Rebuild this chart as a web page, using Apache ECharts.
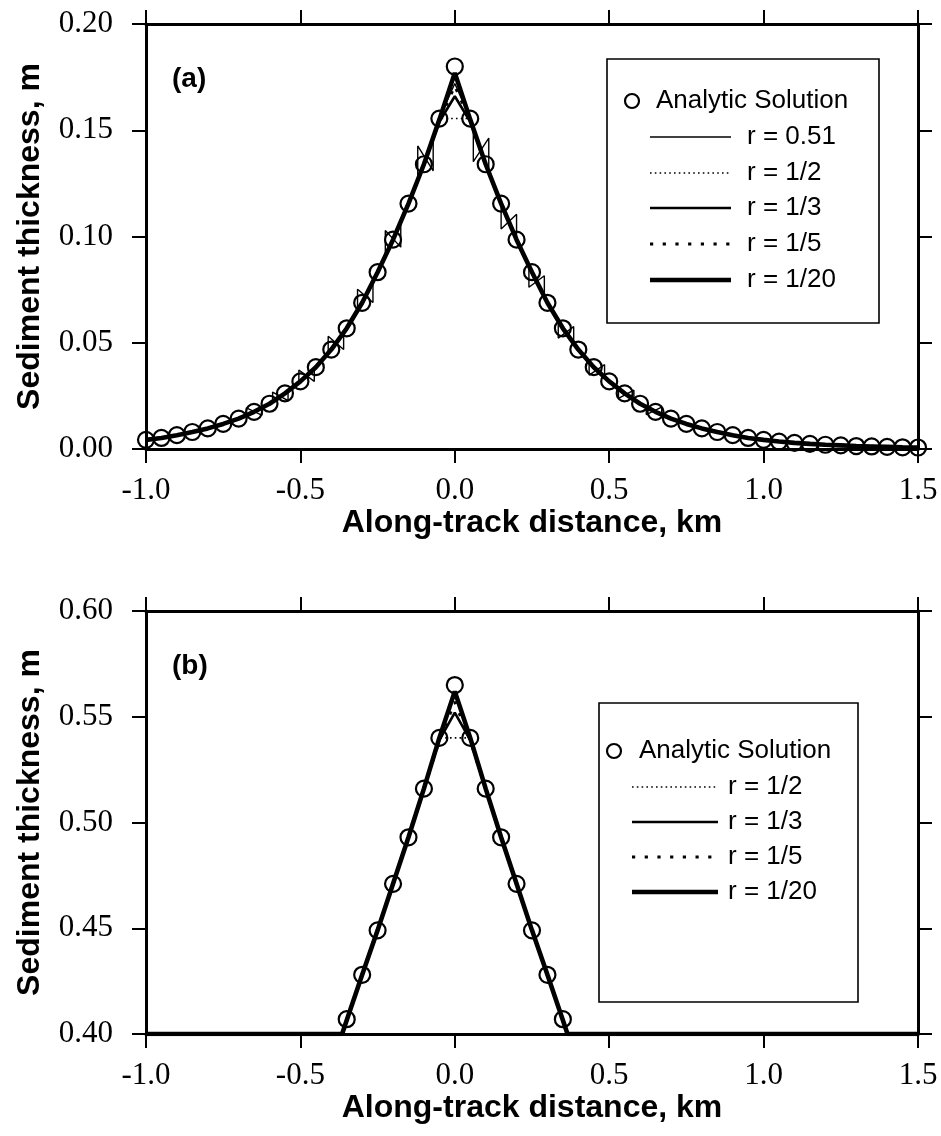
<!DOCTYPE html>
<html><head><meta charset="utf-8">
<script src="https://cdn.jsdelivr.net/npm/echarts@6/dist/echarts.min.js"></script>
<style>html,body{margin:0;padding:0;background:#fff}#c{width:941px;height:1136px}</style>
</head><body><div id="c"></div>
<script>
// ---------- Panel (a) data ----------
const xA = [-1.0,-0.95,-0.9,-0.85,-0.8,-0.75,-0.7,-0.65,-0.6,-0.55,-0.5,-0.45,-0.4,-0.35,-0.3,-0.25,-0.2,-0.15,-0.1,-0.05,
  0,0.05,0.1,0.15,0.2,0.25,0.3,0.35,0.4,0.45,0.5,0.55,0.6,0.65,0.7,0.75,0.8,0.85,0.9,0.95,1.0,
  1.05,1.1,1.15,1.2,1.25,1.3,1.35,1.4,1.45,1.5];
const analyticA = [0.0043,0.0052,0.0065,0.0080,0.0097,0.0118,0.0143,0.0175,0.0213,0.0262,0.0318,0.0385,0.0468,0.0568,0.0688,0.0832,0.0985,0.1155,0.1340,0.1555,
  0.1800,0.1555,0.1340,0.1155,0.0985,0.0832,0.0688,0.0568,0.0468,0.0385,0.0318,0.0262,0.0213,0.0175,0.0143,0.0118,0.0097,0.0080,0.0065,0.0052,0.0043,
  0.0035,0.0029,0.0024,0.0020,0.0017,0.0014,0.0012,0.0010,0.0008,0.0007];
const rHalfA = [0.0043,0.0052,0.0065,0.0080,0.0097,0.0118,0.0143,0.0175,0.0213,0.0262,0.0318,0.0385,0.0468,0.0568,0.0688,0.0832,0.0985,0.1155,0.1340,0.1555,
  0.1555,0.1555,0.1340,0.1155,0.0985,0.0832,0.0688,0.0568,0.0468,0.0385,0.0318,0.0262,0.0213,0.0175,0.0143,0.0118,0.0097,0.0080,0.0065,0.0052,0.0043,
  0.0035,0.0029,0.0024,0.0020,0.0017,0.0014,0.0012,0.0010,0.0008,0.0007];
const rThirdA = [0.0043,0.0052,0.0065,0.0080,0.0097,0.0118,0.0143,0.0175,0.0213,0.0262,0.0318,0.0385,0.0468,0.0568,0.0688,0.0832,0.0985,0.1155,0.1340,0.1540,
  0.1660,0.1540,0.1340,0.1155,0.0985,0.0832,0.0688,0.0568,0.0468,0.0385,0.0318,0.0262,0.0213,0.0175,0.0143,0.0118,0.0097,0.0080,0.0065,0.0052,0.0043,
  0.0035,0.0029,0.0024,0.0020,0.0017,0.0014,0.0012,0.0010,0.0008,0.0007];
const rFifthA = [0.0043,0.0052,0.0065,0.0080,0.0097,0.0118,0.0143,0.0175,0.0213,0.0262,0.0318,0.0385,0.0468,0.0568,0.0688,0.0832,0.0985,0.1155,0.1340,0.1545,
  0.1710,0.1545,0.1340,0.1155,0.0985,0.0832,0.0688,0.0568,0.0468,0.0385,0.0318,0.0262,0.0213,0.0175,0.0143,0.0118,0.0097,0.0080,0.0065,0.0052,0.0043,
  0.0035,0.0029,0.0024,0.0020,0.0017,0.0014,0.0012,0.0010,0.0008,0.0007];
const rTwentiethA = [0.0043,0.0052,0.0065,0.0080,0.0097,0.0118,0.0143,0.0175,0.0213,0.0262,0.0318,0.0385,0.0468,0.0568,0.0688,0.0832,0.0985,0.1155,0.1340,0.1550,
  0.1770,0.1550,0.1340,0.1155,0.0985,0.0832,0.0688,0.0568,0.0468,0.0385,0.0318,0.0262,0.0213,0.0175,0.0143,0.0118,0.0097,0.0080,0.0065,0.0052,0.0043,
  0.0035,0.0029,0.0024,0.0020,0.0017,0.0014,0.0012,0.0010,0.0008,0.0007];
// r = 0.51 : oscillating solution, [x, thickness] pairs
const r051A = [[-1.0,0.0043],[-0.95,0.0052],[-0.9,0.0065],[-0.85,0.008],[-0.8,0.0097],[-0.75,0.0118],[-0.7,0.0143],
  [-0.675,0.0159],[-0.675,0.0194],[-0.625,0.0159],[-0.625,0.0194],[-0.6,0.0213],
  [-0.59,0.0223],[-0.59,0.0268],[-0.54,0.0228],[-0.54,0.0273],
  [-0.505,0.0312],[-0.505,0.0372],[-0.455,0.0318],[-0.455,0.0378],
  [-0.41,0.0451],[-0.41,0.0531],[-0.36,0.0468],[-0.36,0.0548],
  [-0.315,0.0652],[-0.315,0.0752],[-0.265,0.0689],[-0.265,0.0789],
  [-0.225,0.0908],[-0.225,0.1028],[-0.175,0.095],[-0.175,0.107],[-0.15,0.1155],
  [-0.12,0.1266],[-0.12,0.1426],[-0.07,0.1309],[-0.07,0.1469],
  [-0.05,0.1555],[0,0.172],[0.05,0.1555],
  [0.06,0.1512],[0.06,0.1352],[0.11,0.1463],[0.11,0.1303],
  [0.15,0.1155],[0.15,0.1035],[0.2,0.1105],[0.2,0.0985],
  [0.24,0.0861],[0.24,0.0761],[0.29,0.0815],[0.29,0.0715],
  [0.335,0.0602],[0.335,0.0522],[0.385,0.0576],[0.385,0.0496],
  [0.435,0.0408],[0.435,0.0348],[0.485,0.0397],[0.485,0.0337],
  [0.53,0.0283],[0.53,0.0238],[0.58,0.0277],[0.58,0.0232],
  [0.62,0.0197],[0.62,0.0162],[0.67,0.0197],[0.67,0.0162],
  [0.7,0.0143],[0.75,0.0118],[0.8,0.0097],[0.85,0.008],[0.9,0.0065],[0.95,0.0052],[1.0,0.0043],
  [1.1,0.0029],[1.2,0.002],[1.3,0.0014],[1.4,0.001],[1.5,0.0007]];

// ---------- Panel (b) data ----------
const xBcirc = [-0.35,-0.3,-0.25,-0.2,-0.15,-0.1,-0.05,0,0.05,0.1,0.15,0.2,0.25,0.3,0.35];
const analyticB = [0.407,0.428,0.449,0.471,0.493,0.516,0.540,0.565,0.540,0.516,0.493,0.471,0.449,0.428,0.407];
const xBline = [-1.0,-0.365,-0.35,-0.3,-0.25,-0.2,-0.15,-0.1,-0.05,0,0.05,0.1,0.15,0.2,0.25,0.3,0.35,0.365,1.5];
const rHalfB =      [0.40,0.40,0.4065,0.428,0.449,0.471,0.493,0.516,0.540,0.540,0.540,0.516,0.493,0.471,0.449,0.428,0.4065,0.40,0.40];
const rThirdB =     [0.40,0.40,0.4065,0.428,0.449,0.471,0.493,0.516,0.539,0.552,0.539,0.516,0.493,0.471,0.449,0.428,0.4065,0.40,0.40];
const rFifthB =     [0.40,0.40,0.4065,0.428,0.449,0.471,0.493,0.516,0.539,0.557,0.539,0.516,0.493,0.471,0.449,0.428,0.4065,0.40,0.40];
const rTwentiethB = [0.40,0.40,0.4065,0.428,0.449,0.471,0.493,0.516,0.540,0.562,0.540,0.516,0.493,0.471,0.449,0.428,0.4065,0.40,0.40];

// ---------- Ticks / labels ----------
const xTicks = {min:-1.0, max:1.5, interval:0.5};
const yTicksA = {min:0.0, max:0.20, interval:0.05};
const yTicksB = {min:0.40, max:0.60, interval:0.05};
const legendA = ['Analytic Solution','r = 0.51','r = 1/2','r = 1/3','r = 1/5','r = 1/20'];
const legendB = ['Analytic Solution','r = 1/2','r = 1/3','r = 1/5','r = 1/20'];

// ---------- Styles ----------
const SERIF = '"Liberation Serif","Times New Roman",serif';
const SANS = '"Liberation Sans",Arial,Helvetica,sans-serif';
const styles = {
  'r = 0.51': {width:1.4, type:'solid'},
  'r = 1/2': {width:1.6, type:[1.6,3.2]},
  'r = 1/3': {width:2.6, type:'solid'},
  'r = 1/5': {width:3.2, type:[3.2,9.5]},
  'r = 1/20': {width:4.6, type:'solid'}
};
const zip = (xs, ys) => xs.map((x,i)=>[x, ys[i]]);

function xAxes(gi){
  const common = {type:'value', gridIndex:gi, min:xTicks.min, max:xTicks.max, interval:xTicks.interval,
    splitLine:{show:false}, axisLine:{onZero:false, lineStyle:{color:'#000', width:3}},
    axisTick:{length:14, lineStyle:{color:'#000', width:2}}};
  return [
    Object.assign({}, common, {position:'bottom',
      name:'Along-track distance, km', nameLocation:'middle', nameGap:42,
      nameTextStyle:{fontFamily:SANS, fontWeight:'bold', fontSize:32, color:'#000'},
      axisLabel:{fontFamily:SERIF, fontSize:31, color:'#000', margin:26, formatter:v=>v.toFixed(1)}}),
    Object.assign({}, common, {position:'top', axisLabel:{show:false}})
  ];
}
function yAxes(gi, t){
  const common = {type:'value', gridIndex:gi, min:t.min, max:t.max, interval:t.interval,
    splitLine:{show:false}, axisLine:{onZero:false, lineStyle:{color:'#000', width:3}},
    axisTick:{length:14, lineStyle:{color:'#000', width:2}}};
  return [
    Object.assign({}, common, {position:'left',
      name:'Sediment thickness, m', nameLocation:'middle', nameGap:100,
      nameTextStyle:{fontFamily:SANS, fontWeight:'bold', fontSize:32, color:'#000'},
      axisLabel:{fontFamily:SERIF, fontSize:31, color:'#000', margin:33, formatter:v=>v.toFixed(2)}}),
    Object.assign({}, common, {position:'right', axisLabel:{show:false}})
  ];
}
function lineSeries(name, data, xi, yi){
  return {type:'line', name, data, xAxisIndex:xi, yAxisIndex:yi, symbol:'none', showSymbol:false,
    clip:true, lineStyle:{color:'#000', width:styles[name].width, type:styles[name].type, cap:'butt', opacity:1}, z:2};
}
function circleSeries(data, xi, yi){
  return {type:'scatter', name:'Analytic Solution', data, xAxisIndex:xi, yAxisIndex:yi,
    symbol:'circle', symbolSize:16,
    itemStyle:{color:'rgba(0,0,0,0)', borderColor:'#000', borderWidth:2.2, opacity:1}, z:3};
}

// ---------- Legend drawn as decoration ----------
function legendGraphics(box, names, circleX, textX0, lineX1, lineX2, textX, rows){
  const g = [{type:'rect', shape:{x:box[0], y:box[1], width:box[2], height:box[3]},
    style:{fill:'#fff', stroke:'#000', lineWidth:1.6}, z:10}];
  names.forEach((n,i)=>{
    const y = rows[i];
    if(i===0){
      g.push({type:'circle', shape:{cx:circleX, cy:y, r:7}, style:{fill:'none', stroke:'#000', lineWidth:2.2}, z:11});
      g.push({type:'text', x:textX0, y:y, style:{text:n, font:'26px '+SANS, fill:'#000', textVerticalAlign:'middle'}, z:11});
    } else {
      const s = styles[n];
      g.push({type:'line', shape:{x1:lineX1, y1:y, x2:lineX2, y2:y},
        style:{stroke:'#000', lineWidth:s.width, lineDash: s.type==='solid'?null:s.type}, z:11});
      g.push({type:'text', x:textX, y:y, style:{text:n, font:'26px '+SANS, fill:'#000', textVerticalAlign:'middle'}, z:11});
    }
  });
  return g;
}

const chart = echarts.init(document.getElementById('c'), null, {renderer:'canvas'});
const series = [];
series.push(lineSeries('r = 0.51', r051A, 0, 0));
series.push(lineSeries('r = 1/2', zip(xA, rHalfA), 0, 0));
series.push(lineSeries('r = 1/3', zip(xA, rThirdA), 0, 0));
series.push(lineSeries('r = 1/5', zip(xA, rFifthA), 0, 0));
series.push(lineSeries('r = 1/20', zip(xA, rTwentiethA), 0, 0));
series.push(circleSeries(zip(xA, analyticA), 0, 0));
series.push(lineSeries('r = 1/2', zip(xBline, rHalfB), 2, 2));
series.push(lineSeries('r = 1/3', zip(xBline, rThirdB), 2, 2));
series.push(lineSeries('r = 1/5', zip(xBline, rFifthB), 2, 2));
series.push(lineSeries('r = 1/20', zip(xBline, rTwentiethB), 2, 2));
series.push(circleSeries(zip(xBcirc, analyticB), 2, 2));

const graphics = []
  .concat(legendGraphics([607,59,272,264], legendA, 632, 656, 650, 731, 747, [101,137,173,208,244,280]))
  .concat(legendGraphics([599,703,259,299], legendB, 614, 639, 632, 718, 728, [751,787,822,857,892]))
  .concat([
    {type:'text', x:172, y:79, style:{text:'(a)', font:'bold 28px '+SANS, fill:'#000', textVerticalAlign:'middle'}, z:11},
    {type:'text', x:172, y:666, style:{text:'(b)', font:'bold 28px '+SANS, fill:'#000', textVerticalAlign:'middle'}, z:11}
  ]);

chart.setOption({
  animation:false,
  backgroundColor:'#fff',
  grid:[{left:146, top:24, width:772, height:425}, {left:146, top:611, width:772, height:423}],
  xAxis: xAxes(0).concat(xAxes(1)),
  yAxis: yAxes(0, yTicksA).concat(yAxes(1, yTicksB)),
  series,
  graphic: graphics
});
</script></body></html>
